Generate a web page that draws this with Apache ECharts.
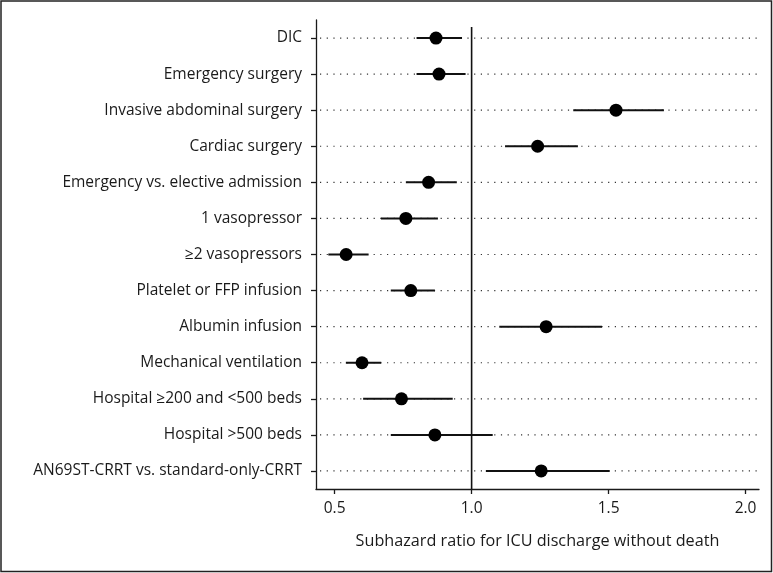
<!DOCTYPE html>
<html>
<head>
<meta charset="utf-8">
<script src="https://cdn.jsdelivr.net/npm/echarts@6/dist/echarts.min.js"></script>
<style>
html,body{margin:0;padding:0;background:#fff;overflow:hidden;}
#main{width:773px;height:573px;}
</style>
</head>
<body>
<div id="main"></div>
<script>
var categories = [
  "DIC",
  "Emergency surgery",
  "Invasive abdominal surgery",
  "Cardiac surgery",
  "Emergency vs. elective admission",
  "1 vasopressor",
  "\u22652 vasopressors",
  "Platelet or FFP infusion",
  "Albumin infusion",
  "Mechanical ventilation",
  "Hospital \u2265200 and <500 beds",
  "Hospital >500 beds",
  "AN69ST-CRRT vs. standard-only-CRRT"
];
var estimates = [0.870, 0.881, 1.527, 1.241, 0.843, 0.760, 0.542, 0.778, 1.272, 0.600, 0.744, 0.866, 1.254];
var lowerCI   = [0.799, 0.799, 1.371, 1.122, 0.760, 0.669, 0.477, 0.705, 1.101, 0.541, 0.604, 0.705, 1.052];
var upperCI   = [0.965, 0.978, 1.702, 1.388, 0.946, 0.877, 0.624, 0.866, 1.476, 0.670, 0.931, 1.077, 1.504];
var xTicks = [0.5, 1.0, 1.5, 2.0];
var xTickLabels = ["0.5", "1.0", "1.5", "2.0"];
var xAxisTitle = "Subhazard ratio for ICU discharge without death";
var referenceValue = 1.0;

var FONT = "Open Sans";
var FS = 15.5;
var chart = echarts.init(document.getElementById('main'), null, {renderer: 'canvas', width: 773, height: 573});

var rowData = categories.map(function (c, i) { return [lowerCI[i], upperCI[i], c]; });
var pointData = categories.map(function (c, i) { return [estimates[i], c]; });

var option = {
  backgroundColor: '#ffffff',
  animation: false,
  textStyle: {fontFamily: FONT},
  grid: {left: 316, right: 14, top: 20, bottom: 84, containLabel: false},
  xAxis: {
    type: 'value',
    min: 0.432,
    max: 2.049,
    name: xAxisTitle,
    nameLocation: 'middle',
    nameGap: 44,
    nameTextStyle: {fontFamily: FONT, fontSize: 16.2, color: '#1a1a1a'},
    axisLine: {show: true, onZero: false, lineStyle: {color: '#1a1a1a', width: 1.3}},
    axisTick: {show: true, length: 5, lineStyle: {color: '#1a1a1a', width: 1.3}, customValues: xTicks},
    axisLabel: {
      show: true, margin: 12, fontFamily: FONT, fontSize: FS, color: '#1a1a1a',
      customValues: xTicks,
      formatter: function (v) {
        var idx = xTicks.indexOf(Math.round(v * 100) / 100);
        return idx >= 0 ? xTickLabels[idx] : '';
      }
    },
    splitLine: {show: false}
  },
  yAxis: {
    type: 'category',
    data: categories,
    inverse: true,
    boundaryGap: true,
    axisLine: {show: true, lineStyle: {color: '#1a1a1a', width: 1.3}},
    axisTick: {show: true, alignWithLabel: true, length: 5, lineStyle: {color: '#1a1a1a', width: 1.3}},
    axisLabel: {margin: 14, fontFamily: FONT, fontSize: FS, color: '#1a1a1a'},
    splitLine: {show: false}
  },
  series: [
    {
      type: 'custom',
      silent: true,
      z: 1,
      data: rowData,
      renderItem: function (params, api) {
        var y = api.coord([0.432, api.value(2)])[1];
        var cs = params.coordSys;
        return {
          type: 'line',
          shape: {x1: cs.x + 4, y1: y, x2: cs.x + cs.width, y2: y},
          style: {stroke: '#333', lineWidth: 1.2, lineDash: [1.2, 5.5]}
        };
      }
    },
    {
      type: 'custom',
      silent: true,
      z: 2,
      data: [[referenceValue]],
      renderItem: function (params, api) {
        var cs = params.coordSys;
        var x = api.coord([api.value(0), categories[0]])[0];
        return {
          type: 'line',
          shape: {x1: x, y1: cs.y + 7, x2: x, y2: cs.y + cs.height},
          style: {stroke: '#111', lineWidth: 1.6}
        };
      }
    },
    {
      type: 'custom',
      silent: true,
      z: 3,
      data: rowData,
      encode: {x: [0, 1], y: 2},
      renderItem: function (params, api) {
        var p1 = api.coord([api.value(0), api.value(2)]);
        var p2 = api.coord([api.value(1), api.value(2)]);
        return {
          type: 'line',
          shape: {x1: p1[0], y1: p1[1], x2: p2[0], y2: p2[1]},
          style: {stroke: '#111', lineWidth: 2}
        };
      }
    },
    {
      type: 'scatter',
      z: 4,
      data: pointData,
      symbol: 'circle',
      symbolSize: 13,
      itemStyle: {color: '#000', opacity: 1}
    }
  ],
  graphic: [
    {
      type: 'rect',
      silent: true,
      z: 100,
      shape: {x: 1, y: 1, width: 770.5, height: 570.5},
      style: {fill: null, stroke: '#222', lineWidth: 1.5}
    }
  ]
};
chart.setOption(option);
</script>
</body>
</html>
